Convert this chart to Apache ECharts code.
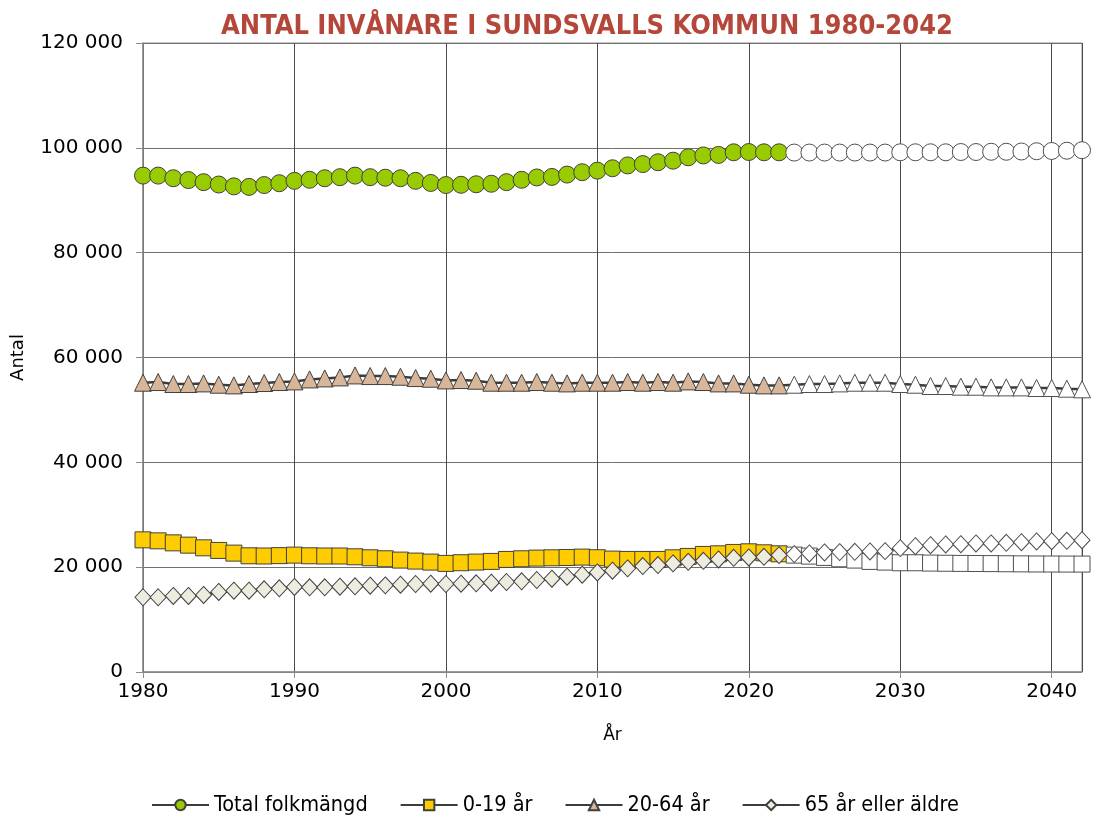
<!DOCTYPE html>
<html>
<head>
<meta charset="utf-8">
<script src="https://cdn.jsdelivr.net/npm/echarts@6/dist/echarts.min.js"></script>
<style>
html,body{margin:0;padding:0;background:#fff;}
#chart{width:1095px;height:816px;}
</style>
</head>
<body>
<div id="chart"></div>
<script>
const years = [1980,1981,1982,1983,1984,1985,1986,1987,1988,1989,
  1990,1991,1992,1993,1994,1995,1996,1997,1998,1999,
  2000,2001,2002,2003,2004,2005,2006,2007,2008,2009,
  2010,2011,2012,2013,2014,2015,2016,2017,2018,2019,
  2020,2021,2022,2023,2024,2025,2026,2027,2028,2029,
  2030,2031,2032,2033,2034,2035,2036,2037,2038,2039,
  2040,2041,2042];
const projectionStart = 2023;

const total = [94700,94700,94200,93850,93450,93000,92650,92550,92900,93250,
  93700,93900,94200,94400,94700,94400,94300,94200,93700,93300,
  92900,92950,93050,93150,93450,93900,94350,94450,94900,95350,
  95650,96100,96650,96900,97250,97550,98200,98550,98650,99150,
  99200,99150,99150,99100,99100,99100,99100,99100,99100,99100,
  99150,99150,99150,99150,99200,99200,99250,99250,99300,99350,
  99400,99450,99550];

const age0to19 = [25210,25020,24640,24200,23690,23190,22680,22170,22130,22200,
  22300,22170,22130,22130,21980,21790,21600,21350,21160,20970,
  20720,20850,20970,21100,21480,21600,21730,21790,21850,21920,
  21800,21540,21480,21480,21480,21790,22050,22430,22550,22810,
  22930,22740,22550,22300,22110,21860,21600,21350,21100,20970,
  20840,20840,20780,20750,20720,20700,20680,20650,20630,20610,
  20600,20590,20590];

const age20to64 = [55190,55320,54940,54940,55060,54810,54680,54940,55130,55320,
  55440,55820,56010,56200,56580,56460,56460,56330,56080,55950,
  55630,55700,55570,55190,55190,55190,55320,55190,55060,55190,
  55190,55190,55320,55190,55320,55190,55440,55320,55060,55060,
  54810,54680,54680,54810,54940,54940,55060,55190,55190,55190,
  54940,54810,54560,54560,54430,54430,54300,54300,54300,54180,
  54180,54050,53930];

const age65plus = [14260,14260,14510,14510,14700,15270,15520,15520,15780,15970,
  16220,16160,16160,16280,16340,16470,16530,16660,16790,16850,
  16790,16850,16920,17040,17170,17300,17550,17800,18180,18560,
  19000,19320,19770,20210,20400,20720,21030,21220,21480,21790,
  21850,21980,22300,22490,22620,22810,22870,22930,23000,23060,
  23630,24010,24200,24330,24390,24520,24520,24640,24770,24900,
  24960,25020,25150];

const seriesNames = ['Total folkmängd','0-19 år','20-64 år','65 år eller äldre'];
const yTicks = [0,20000,40000,60000,80000,100000,120000];

const chart = echarts.init(document.getElementById('chart'), null, {renderer:'canvas'});

function build(name, values, symbol, size, color) {
  return {
    name: name,
    type: 'line',
    symbol: symbol,
    symbolSize: size,
    showAllSymbol: true,
    animation: false,
    lineStyle: {color:'#3c3c3c', width:2.5},
    itemStyle: {color: color, borderColor:'#404040', borderWidth:1},
    emphasis: {disabled:true},
    data: years.map((y,i) => {
      const d = {value:[y, values[i]]};
      if (y >= projectionStart) d.itemStyle = {color:'#ffffff', borderColor:'#505050'};
      return d;
    })
  };
}

const axisFont = {fontFamily:'DejaVu Sans', fontSize:20, color:'#000'};
const condensed = "'DejaVu Sans Condensed', 'Liberation Sans', sans-serif";

chart.setOption({
  animation: false,
  backgroundColor: '#fff',
  title: {
    text: 'ANTAL INVÅNARE I SUNDSVALLS KOMMUN 1980-2042',
    left: 582, top: 8, textAlign: 'center',
    textStyle: {fontFamily: condensed, fontWeight:'bold', fontSize:27, color:'#B5473A'}
  },
  grid: {left:143, right:13, top:43, bottom:144, show:true, borderColor:'#8c8c8c', borderWidth:1, containLabel:false},
  legend: {
    data: seriesNames,
    left: 146, top: 789,
    itemWidth: 57, itemHeight: 13, itemGap: 32,
    textStyle: {fontFamily: condensed, fontSize:21.5, color:'#000'}
  },
  xAxis: {
    type: 'value', min: 1980, max: 2042, interval: 10,
    name: 'År', nameLocation: 'middle', nameGap: 55,
    nameTextStyle: {fontFamily:'DejaVu Sans', fontSize:17, color:'#000'},
    axisLine: {show:true, lineStyle:{color:'#8c8c8c', width:1.5}},
    axisTick: {show:true, length:6, lineStyle:{color:'#8c8c8c'}},
    axisLabel: Object.assign({margin:10, formatter: v => String(v)}, axisFont),
    splitLine: {show:true, lineStyle:{color:'#4a4a4a', width:1}}
  },
  yAxis: {
    type: 'value', min: 0, max: 120000, interval: 20000,
    name: 'Antal', nameLocation: 'middle', nameGap: 116, nameRotate: 90,
    nameTextStyle: {fontFamily:'DejaVu Sans', fontSize:18, color:'#000'},
    axisLine: {show:true, lineStyle:{color:'#8c8c8c', width:1.5}},
    axisTick: {show:true, length:7, lineStyle:{color:'#8c8c8c'}},
    axisLabel: Object.assign({margin:20, formatter: v => yTicks.includes(v) ? v.toLocaleString('en-US').replace(/,/g,' ') : ''}, axisFont),
    splitLine: {show:true, lineStyle:{color:'#707070', width:1}}
  },
  series: [
    build(seriesNames[0], total, 'circle', 17, '#99CC00'),
    build(seriesNames[1], age0to19, 'rect', 16, '#FFCC00'),
    build(seriesNames[2], age20to64, 'triangle', [17,17], '#D8B699'),
    build(seriesNames[3], age65plus, 'diamond', [16,17], '#EEEBDF')
  ]
});
</script>
</body>
</html>
